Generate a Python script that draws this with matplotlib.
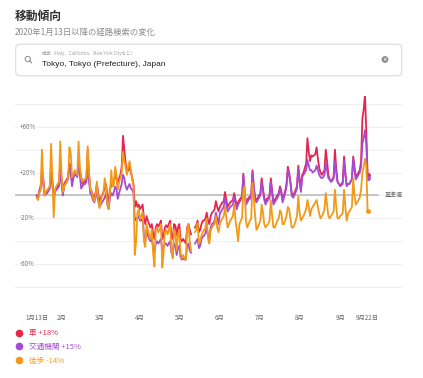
import matplotlib
matplotlib.use("Agg")
import matplotlib.pyplot as plt
import matplotlib.dates as mdates
from matplotlib.lines import Line2D
from matplotlib.patches import FancyBboxPatch, Circle
import numpy as np
import pandas as pd

nan = np.nan

# daily % change vs baseline, 2020-01-13 .. 2020-09-22 (one row per week, Mon..Sun)
driving = [
    0, -2, 4, 8, 22, 15, 2,
    2, 3, 5, 8, 25, 12, 0,
    4, 6, 8, 10, 28, 14, 2,
    10, 12, 14, 16, 28, 25, 12,
    18, 20, 20, 18, 30, 22, 16,
    10, 12, 12, 15, 40, 18, 6,
    3, 0, -2, 2, 10, 2, -6,
    -2, 0, 3, 6, 10, 0, -6,
    5, 10, 8, 12, 18, 15, 8,
    15, 18, 25, 52, 40, 28, 20,
    22, 25, 20, 15, 10, -10, -5,
    -10, -8, -12, -10, -8, -20, -25,
    -18, -22, -25, -28, -25, -33, -38,
    -28, -25, -27, -25, -22, -38, -35,
    -28, -26, -28, -25, -22, -35, -38,
    -25, -26, -35, -28, -25, -38, -40,
    -38, -40, -42, -28, -25, -30, -34,
    nan, nan, -28, -26, -22, -32, -30,
    -25, -22, -22, -20, -15, -22, -25,
    -18, -15, -14, -12, -5, -10, -14,
    -10, -8, -6, -5, 3, -4, -10,
    -8, -6, -5, -4, 2, -4, -8,
    -6, -4, -2, -1, 19, 2, -6,
    -4, -2, -1, 0, 22, 8, -2,
    -4, -2, 0, 2, 15, 6, -2,
    -6, -3, -2, 0, 15, 4, -6,
    -4, -2, 0, 2, 8, 4, -4,
    0, 4, 10, 25, 20, 12, 2,
    0, 2, 5, 8, 26, 15, 5,
    18, 20, 24, 28, 50, 38, 30,
    35, 34, 35, 36, 42, 32, 24,
    20, 18, 20, 22, 40, 30, 18,
    14, 12, 14, 16, 40, 24, 12,
    10, 9, 10, 12, 34, 20, 9,
    10, 10, 12, 14, 34, 25, 15,
    18, 20, 22, 30, 67, 75, 88,
    55, 18,
]

transit = [
    0, -2, 3, 6, 18, 10, 0,
    1, 2, 4, 6, 18, 8, -3,
    3, 5, 6, 8, 20, 10, 0,
    8, 10, 12, 14, 25, 20, 8,
    15, 18, 18, 16, 26, 18, 6,
    8, 10, 10, 12, 26, 12, 2,
    0, -4, -6, -2, 6, -5, -10,
    -8, -6, -4, -2, 2, -8, -12,
    -2, 2, 0, 3, 8, 5, -3,
    2, 6, 10, 18, 15, 8, 5,
    8, 10, 6, 5, 2, -22, -20,
    -20, -18, -22, -22, -20, -35, -40,
    -30, -35, -38, -40, -38, -45, -50,
    -42, -40, -42, -40, -38, -48, -46,
    -42, -42, -44, -42, -40, -50, -52,
    -42, -44, -52, -46, -44, -54, -56,
    -55, -56, -56, -44, -42, -48, -50,
    nan, nan, -42, -40, -38, -46, -44,
    -38, -36, -35, -33, -28, -35, -38,
    -28, -25, -24, -22, -15, -20, -25,
    -16, -14, -12, -10, -2, -8, -14,
    -12, -10, -9, -8, -1, -7, -12,
    -8, -6, -4, -3, 18, 0, -8,
    -6, -4, -3, -2, 20, 6, -4,
    -6, -4, -2, 0, 12, 4, -4,
    -8, -5, -4, -2, 12, 2, -8,
    -6, -4, -2, 0, 6, 2, -6,
    -2, 2, 8, 22, 18, 10, 0,
    -2, 0, 3, 6, 23, 12, 3,
    16, 18, 20, 22, 31, 26, 22,
    22, 20, 21, 22, 26, 22, 18,
    16, 15, 16, 18, 28, 22, 15,
    14, 12, 13, 15, 30, 20, 12,
    10, 8, 9, 10, 30, 18, 8,
    10, 10, 12, 14, 32, 22, 14,
    16, 18, 20, 25, 45, 50, 57,
    45, 15,
]

walking = [
    -2, -4, 2, 5, 40, 12, 0,
    3, 5, 6, 8, 45, 15, -19,
    5, 8, 10, 12, 47, 18, 3,
    8, 10, 12, 15, 42, 37, 16,
    18, 22, 20, 18, 47, 25, 15,
    12, 14, 14, 16, 43, 20, 5,
    4, -2, -5, 0, 12, -2, -11,
    -5, 0, 2, 15, 8, -8, -12,
    2, 22, 8, 10, 25, 18, 5,
    12, 15, 20, 38, 30, 25, 18,
    25, 30, 22, 15, 8, -52, -40,
    -15, -12, -20, -18, -15, -40, -45,
    -25, -30, -35, -38, -30, -50, -62,
    -30, -28, -32, -30, -25, -63, -50,
    -32, -30, -34, -30, -25, -48, -55,
    -30, -32, -48, -35, -30, -50, -55,
    -52, -55, -56, -30, -25, -40, -48,
    nan, nan, -32, -30, -24, -42, -40,
    -35, -32, -30, -28, -20, -38, -42,
    -30, -28, -26, -25, -18, -28, -32,
    -25, -22, -20, -18, -10, -20, -28,
    -25, -22, -20, -18, -8, -22, -30,
    -40, -25, -22, -20, 5, 8, -22,
    -28, -25, -22, -20, 11, -2, -18,
    -30, -28, -25, -22, -8, -15, -25,
    -28, -26, -25, -22, -4, -18, -28,
    -28, -25, -22, -20, -13, -15, -25,
    -25, -22, -18, -10, -12, -20, -28,
    -28, -26, -22, -18, -1, -15, -22,
    -20, -18, -15, -12, -4, -10, -18,
    -12, -10, -8, -6, -4, -10, -16,
    -20, -18, -16, -12, 2, -8, -18,
    -20, -18, -16, -14, 5, -10, -20,
    -20, -18, -17, -15, 5, -10, -22,
    -16, -14, -12, -10, 15, 0, -8,
    -6, -4, -2, 5, 20, 25, 32,
    25, -14,
]

series_names = ["車", "交通機関", "徒歩"]
series_colors = ["#E4264F", "#A64BD6", "#F29A17"]
tick_dates = ["2020-01-13", "2020-02-01", "2020-03-01", "2020-04-01", "2020-05-01",
              "2020-06-01", "2020-07-01", "2020-08-01", "2020-09-01", "2020-09-22"]
tick_labels = ["1月13日", "2月", "3月", "4月", "5月", "6月", "7月", "8月", "9月", "9月22日"]
ytick_labels = {60: "+60%", 20: "+20%", -20: "-20%", -60: "-60%"}

assert len(driving) == len(transit) == len(walking) == 254

plt.rcParams["font.family"] = ["Noto Sans CJK JP", "DejaVu Sans"]

W, H = 423, 378
fig = plt.figure(figsize=(W / 100, H / 100), dpi=100)
fig.patch.set_facecolor("white")

# pixel-coordinate layer for the page chrome
bg = fig.add_axes([0, 0, 1, 1])
bg.set_xlim(0, W)
bg.set_ylim(H, 0)
bg.axis("off")

bg.text(15, 16, "移動傾向", fontsize=8.5, fontweight="bold", color="#333333", va="center")
bg.text(15, 32.5, "2020年1月13日以降の経路検索の変化", fontsize=6, color="#8a8a8a", va="center")

bg.add_patch(FancyBboxPatch((15.7, 44.3), 386, 31.4, boxstyle="round,pad=0,rounding_size=4",
                            ec="#dcdcdc", fc="white", lw=0.8))
bg.add_patch(Circle((27.8, 59), 2.6, fill=False, ec="#8a8a8a", lw=0.7))
bg.plot([29.7, 31.6], [60.9, 62.8], color="#8a8a8a", lw=0.8)
bg.text(42.5, 53.5, "検索（Italy、California、New York Cityなど）", fontsize=3.2,
        color="#a0a0a0", va="center")
bg.text(42.5, 65, "Tokyo, Tokyo (Prefecture), Japan", fontsize=6, color="#222222",
        va="center", family=["Liberation Sans"])
bg.add_patch(Circle((385, 59.5), 3.4, fc="#8c8c8c", ec="none"))
bg.text(385, 59.7, "×", fontsize=4, color="white", ha="center", va="center",
        family=["DejaVu Sans"], fontweight="bold")

# chart area
left, right, top, bottom = 15, 402, 96, 310
ax = fig.add_axes([left / W, 1 - bottom / H, (right - left) / W, (bottom - top) / H])
ax.set_facecolor("none")

dates = pd.date_range("2020-01-13", periods=len(driving), freq="D")
start = mdates.date2num(dates[0])
ax.set_xlim(start - 16.6, start + 279.3)
ax.set_ylim(-100, 86.8)

ax.set_yticks(np.arange(-100, 81, 20))
ax.set_yticklabels([])
ax.tick_params(axis="y", length=0)
ax.yaxis.grid(True, color="#efefef", lw=0.8)
ax.set_axisbelow(True)
for s in ax.spines.values():
    s.set_visible(False)

ax.axhline(0, xmin=0, xmax=0.939, color="#bdbdbd", lw=1.2, zorder=1)
ax.text(0.955, 0, "基準値", transform=ax.get_yaxis_transform(), fontsize=4.3,
        color="#666666", va="center", ha="left")

for val, lab in ytick_labels.items():
    ax.text(0.012, val, lab, transform=ax.get_yaxis_transform(), fontsize=4.5,
            color="#777777", va="center", ha="left",
            bbox=dict(fc="white", ec="none", pad=1.2), zorder=2)

ax.set_xticks(mdates.date2num(pd.to_datetime(tick_dates)))
ax.set_xticklabels(tick_labels, fontsize=4.5, color="#666666")
ax.tick_params(axis="x", length=0, pad=3)

order = [1, 0, 2]
values = [driving, transit, walking]
for i in order:
    y = np.array(values[i], dtype=float)
    ax.plot(dates, y, color=series_colors[i], lw=1.3, zorder=3 + i, solid_joinstyle="round")
    ax.plot(dates[-1:], y[-1:], "o", color=series_colors[i], ms=2.5, zorder=3 + i)

handles = [Line2D([], [], ls="none", marker="o", ms=4.5, color=c) for c in series_colors]
labels = [f"{n} {int(v[-1]):+d}%" for n, v in zip(series_names, values)]
fig.legend(handles, labels, loc="upper left", bbox_to_anchor=(12.5 / W, 1 - 325.5 / H),
           frameon=False, fontsize=5.5, labelcolor=series_colors, handlelength=0.8,
           handletextpad=0.8, labelspacing=0.75, borderpad=0)

fig.savefig("out.png", dpi=100)
